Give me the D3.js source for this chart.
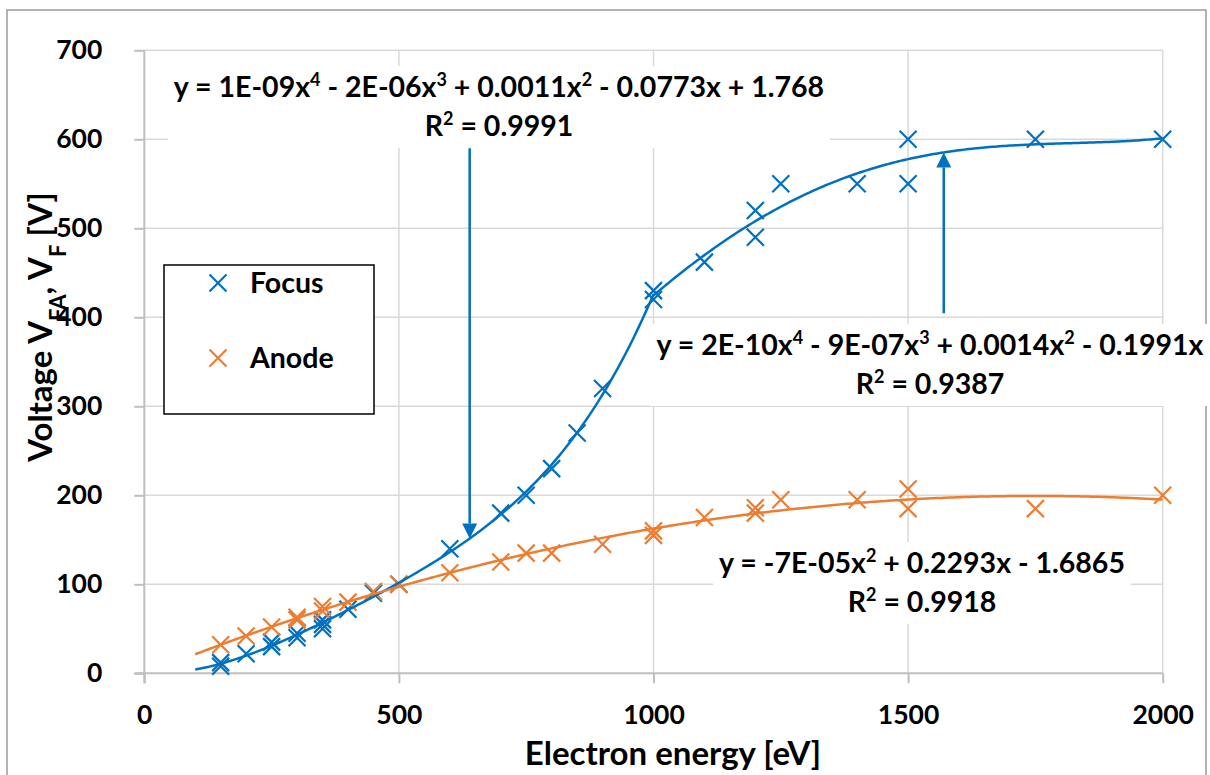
<!DOCTYPE html>
<html>
<head>
<meta charset="utf-8">
<script src="https://cdn.jsdelivr.net/npm/d3@7"></script>
<style>
  body { margin: 0; background: #fff; }
  svg { display: block; }
  text { font-family: Lato, "Open Sans", sans-serif; font-weight: bold; fill: #000; }
</style>
</head>
<body>
<svg id="chart" width="1210" height="775"></svg>
<script>
// ---- measured data ----
const focusEnergy  = [150,150,200,250,250,300,300,350,350,350,400,450,500,600,700,750,800,850,900,1000,1000,1100,1200,1200,1250,1400,1500,1500,1750,2000];
const focusVoltage = [8,12,22,30,35,40,45,50,55,60,72,90,100,140,180,200,230,270,320,420,430,462,490,520,550,550,550,600,600,600];

const anodeEnergy  = [150,200,250,300,300,350,350,400,450,500,600,700,750,800,900,1000,1000,1100,1200,1200,1250,1400,1500,1500,1750,2000];
const anodeVoltage = [32,42,52,60,63,70,75,80,92,100,113,125,135,135,145,155,160,175,180,186,195,195,185,207,185,200];

const xTicks = [0, 500, 1000, 1500, 2000];
const yTicks = [0, 100, 200, 300, 400, 500, 600, 700];

const seriesNames = ["Focus", "Anode"];

// trendline equations as printed (odd entries are exponents)
const eqFocusLow  = ["y = 1E-09x", "4", " - 2E-06x", "3", " + 0.0011x", "2", " - 0.0773x + 1.768"];
const r2FocusLow  = "0.9991";
const eqFocusHigh = ["y = 2E-10x", "4", " - 9E-07x", "3", " + 0.0014x", "2", " - 0.1991x"];
const r2FocusHigh = "0.9387";
const eqAnode     = ["y = -7E-05x", "2", " + 0.2293x - 1.6865"];
const r2Anode     = "0.9918";

// focus trend is split into a low-energy and a high-energy polynomial
const focusBreak = 1000;

// ---- colours ----
const BLUE = "#0070C0", ORANGE = "#ED7D31";
const GRID = "#D9D9D9", AXIS = "#BFBFBF";

// ---- least-squares polynomial fit (x scaled by 1/1000 for conditioning) ----
function polyFit(xs, ys, degree, withIntercept) {
  const powers = d3.range(withIntercept ? 0 : 1, degree + 1);
  const n = powers.length;
  const A = Array.from({length: n}, () => new Array(n).fill(0));
  const b = new Array(n).fill(0);
  xs.forEach((x, i) => {
    const t = x / 1000;
    const row = powers.map(p => Math.pow(t, p));
    for (let j = 0; j < n; j++) {
      b[j] += row[j] * ys[i];
      for (let k = 0; k < n; k++) A[j][k] += row[j] * row[k];
    }
  });
  // gaussian elimination with partial pivoting
  for (let c = 0; c < n; c++) {
    let piv = c;
    for (let r = c + 1; r < n; r++) if (Math.abs(A[r][c]) > Math.abs(A[piv][c])) piv = r;
    [A[c], A[piv]] = [A[piv], A[c]];
    [b[c], b[piv]] = [b[piv], b[c]];
    for (let r = c + 1; r < n; r++) {
      const f = A[r][c] / A[c][c];
      for (let k = c; k < n; k++) A[r][k] -= f * A[c][k];
      b[r] -= f * b[c];
    }
  }
  const coef = new Array(n).fill(0);
  for (let r = n - 1; r >= 0; r--) {
    let s = b[r];
    for (let k = r + 1; k < n; k++) s -= A[r][k] * coef[k];
    coef[r] = s / A[r][r];
  }
  return x => powers.reduce((s, p, j) => s + coef[j] * Math.pow(x / 1000, p), 0);
}

const focusPts = focusEnergy.map((x, i) => ({x, y: focusVoltage[i]}));
const anodePts = anodeEnergy.map((x, i) => ({x, y: anodeVoltage[i]}));
const lowPts  = focusPts.filter(d => d.x <= focusBreak);
const highPts = focusPts.filter(d => d.x >= focusBreak);

const fitFocusLow  = polyFit(lowPts.map(d => d.x),  lowPts.map(d => d.y), 4, true);
const fitFocusHigh = polyFit(highPts.map(d => d.x), highPts.map(d => d.y), 4, false);
const fitAnode     = polyFit(anodeEnergy, anodeVoltage, 2, true);

// ---- layout ----
const svg = d3.select("#chart");
const plot = {left: 144.3, right: 1162.7, top: 50.3, bottom: 673.3};

const x = d3.scaleLinear().domain([0, 2000]).range([plot.left, plot.right]);
const y = d3.scaleLinear().domain([0, 700]).range([plot.bottom, plot.top]);

const FONT = "Lato, 'Open Sans', sans-serif";
const tickSize = 26.5, eqSize = 28.5, supSize = 18, legendSize = 28.5, titleSize = 33, subSize = 22;

// outer chart frame
svg.append("rect")
  .attr("x", 7).attr("y", 10).attr("width", 1199).attr("height", 770)
  .attr("fill", "#fff").attr("stroke", "#8c8c8c").attr("stroke-width", 1.3);

// gridlines
const grid = svg.append("g");
grid.selectAll(".hg").data(yTicks.filter(v => v > 0)).join("line")
  .attr("x1", plot.left).attr("x2", plot.right)
  .attr("y1", d => y(d)).attr("y2", d => y(d))
  .attr("stroke", GRID).attr("stroke-width", 1.5);
grid.selectAll(".vg").data(xTicks.filter(v => v > 0)).join("line")
  .attr("x1", d => x(d)).attr("x2", d => x(d))
  .attr("y1", plot.top).attr("y2", plot.bottom)
  .attr("stroke", GRID).attr("stroke-width", 1.5);

// axes
const yAxis = svg.append("g").attr("transform", `translate(${plot.left},0)`)
  .call(d3.axisLeft(y).tickValues(yTicks).tickSize(10).tickPadding(32).tickFormat(d3.format("d")));
const xAxis = svg.append("g").attr("transform", `translate(0,${plot.bottom})`)
  .call(d3.axisBottom(x).tickValues(xTicks).tickSize(10).tickPadding(22).tickFormat(d3.format("d")));
[yAxis, xAxis].forEach(g => {
  g.select(".domain").attr("stroke", AXIS).attr("stroke-width", 2);
  g.selectAll(".tick line").attr("stroke", AXIS).attr("stroke-width", 2);
  g.selectAll(".tick text").attr("font-size", tickSize)
    .style("font-family", FONT).style("font-weight", "bold").attr("fill", "#000");
});
yAxis.select(".domain").attr("d", `M-10,${plot.bottom}H0V${plot.top}`);
xAxis.select(".domain").attr("d", `M${plot.left},10V0H${plot.right}`);

// axis titles
svg.append("text")
  .attr("x", 673).attr("y", 765).attr("text-anchor", "middle").attr("font-size", titleSize)
  .text("Electron energy [eV]");
const yTitle = svg.append("text")
  .attr("transform", `translate(52,327) rotate(-90)`)
  .attr("text-anchor", "middle").attr("font-size", titleSize);
yTitle.append("tspan").text("Voltage V");
yTitle.append("tspan").attr("baseline-shift", "sub").attr("font-size", subSize).text("FA");
yTitle.append("tspan").text(", V");
yTitle.append("tspan").attr("baseline-shift", "sub").attr("font-size", subSize).text("F");
yTitle.append("tspan").text(" [V]");

// markers (anode drawn over focus)
const cross = h => `M${-h},${-h}L${h},${h}M${-h},${h}L${h},${-h}`;
function markers(pts, color) {
  svg.append("g").selectAll("path").data(pts).join("path")
    .attr("transform", d => `translate(${x(d.x)},${y(d.y)})`)
    .attr("d", cross(8.5)).attr("fill", "none")
    .attr("stroke", color).attr("stroke-width", 2.2);
}
markers(focusPts, BLUE);
markers(anodePts, ORANGE);

// trendlines
const line = d3.line().x(d => x(d[0])).y(d => y(d[1]));
function trend(fn, x0, x1, color) {
  const pts = d3.range(x0, x1 + 0.1, 5).map(v => [v, fn(v)]);
  svg.append("path").attr("d", line(pts)).attr("fill", "none")
    .attr("stroke", color).attr("stroke-width", 2.5);
}
trend(fitFocusLow, 100, focusBreak, BLUE);
trend(fitFocusHigh, focusBreak, 2000, BLUE);
trend(fitAnode, 100, 2000, ORANGE);

// equation labels with white backing
function eqLabel(parts, r2, cx, base1, base2) {
  const g = svg.append("g");
  const bg = g.append("rect").attr("fill", "#fff");
  const t1 = g.append("text").attr("x", cx).attr("y", base1).attr("text-anchor", "middle").attr("font-size", eqSize);
  parts.forEach((p, i) => {
    if (i % 2 === 1) t1.append("tspan").attr("baseline-shift", "super").attr("font-size", supSize).text(p);
    else t1.append("tspan").text(p);
  });
  const t2 = g.append("text").attr("x", cx).attr("y", base2).attr("text-anchor", "middle").attr("font-size", eqSize);
  t2.append("tspan").text("R");
  t2.append("tspan").attr("baseline-shift", "super").attr("font-size", supSize).text("2");
  t2.append("tspan").text(" = " + r2);
  const b = g.node().getBBox();
  bg.attr("x", b.x - 6).attr("y", b.y - 2).attr("width", b.width + 12).attr("height", b.height + 8);
}
eqLabel(eqFocusLow, r2FocusLow, 499, 97, 136);
eqLabel(eqFocusHigh, r2FocusHigh, 930, 355, 394);
eqLabel(eqAnode, r2Anode, 922, 573, 612);

// arrows from labels to the focus trendlines
function arrow(xv, fromV, fn, dir) {
  const tipV = fn(xv);
  const px = x(xv), py0 = y(fromV), py1 = y(tipV);
  const head = 15, half = 7.5;
  const base = py1 - dir * head;
  svg.append("line").attr("x1", px).attr("x2", px).attr("y1", py0).attr("y2", base)
    .attr("stroke", BLUE).attr("stroke-width", 2.5);
  svg.append("path")
    .attr("d", `M${px},${py1}L${px - half},${base}L${px + half},${base}Z`)
    .attr("fill", BLUE);
}
arrow(639, 590, fitFocusLow, 1);
arrow(1570, 404.5, fitFocusHigh, -1);

// legend
const lg = svg.append("g");
lg.append("rect").attr("x", 164).attr("y", 265).attr("width", 210).attr("height", 149)
  .attr("fill", "#fff").attr("stroke", "#000").attr("stroke-width", 1.5);
[[BLUE, 283], [ORANGE, 358]].forEach(([c, cy], i) => {
  lg.append("path").attr("transform", `translate(218,${cy})`).attr("d", cross(8.5))
    .attr("stroke", c).attr("stroke-width", 2.2).attr("fill", "none");
  lg.append("text").attr("x", 250).attr("y", cy + 10).attr("font-size", legendSize).text(seriesNames[i]);
});
</script>
</body>
</html>
